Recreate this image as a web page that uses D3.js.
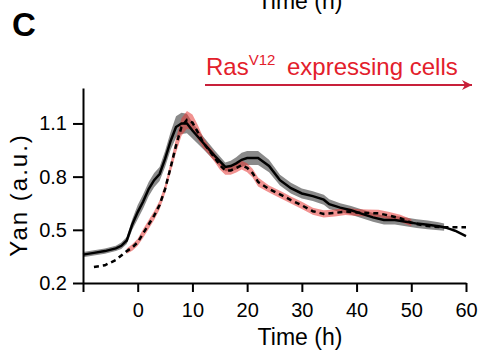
<!DOCTYPE html>
<html>
<head>
<meta charset="utf-8">
<script src="https://cdn.jsdelivr.net/npm/d3@7"></script>
<style>
    body { margin: 0; background: white; }
    svg { display: block; font-family: "Liberation Sans", Arial, sans-serif; }
</style>
</head>
<body>
<svg width="479" height="353"></svg>
<script>
// control cells (black line, grey band)
var ctrlTime = [-10, -8, -6, -4, -3, -2, -1, 0, 1, 2, 3, 4, 5, 6, 7, 8, 9, 10, 12, 14, 16, 17, 18, 19, 20,
    22, 24, 26, 28, 30, 32, 34, 35, 37, 39, 41, 43, 45, 47, 49, 51, 53, 55, 56, 57, 58, 60];
var ctrlYan = [0.36, 0.37, 0.38, 0.395, 0.41, 0.44, 0.53, 0.60, 0.66, 0.73, 0.78, 0.815, 0.90, 1.00, 1.08, 1.10, 1.10, 1.06,
    0.99, 0.92, 0.855, 0.86, 0.875, 0.895, 0.905, 0.905, 0.86, 0.78, 0.735, 0.705, 0.69, 0.67, 0.645,
    0.625, 0.61, 0.59, 0.57, 0.555, 0.555, 0.545, 0.535, 0.528, 0.52, 0.515, 0.505, 0.495, 0.465];
var ctrlSem = [0.015, 0.015, 0.015, 0.015, 0.018, 0.02, 0.03, 0.04, 0.04, 0.04, 0.04, 0.04, 0.045, 0.05, 0.06, 0.06, 0.055, 0.045,
    0.035, 0.03, 0.025, 0.03, 0.035, 0.04, 0.04, 0.04, 0.035, 0.03, 0.03, 0.028, 0.028, 0.028, 0.028,
    0.025, 0.025, 0.025, 0.025, 0.025, 0.025, 0.025, 0.025, 0.025, 0.022, 0.02, null, null, null];

// RasV12 cells (dashed line, red band)
var rasTime = [-8, -6, -4, -2, -1, 0, 1, 2, 3, 4, 5, 6, 7, 8, 9, 10, 11, 12, 13, 14, 15, 16, 17, 18, 19, 20, 21, 22,
    24, 26, 28, 30, 32, 34, 36, 38, 40, 42, 44, 46, 48, 50, 52, 54, 56, 58, 60];
var rasYan = [0.29, 0.30, 0.33, 0.38, 0.40, 0.43, 0.48, 0.53, 0.58, 0.64, 0.73, 0.85, 0.975, 1.08, 1.12, 1.105,
    1.05, 0.99, 0.95, 0.91, 0.865, 0.835, 0.835, 0.848, 0.865, 0.85, 0.82, 0.77,
    0.73, 0.70, 0.668, 0.638, 0.605, 0.59, 0.595, 0.603, 0.598, 0.595, 0.593, 0.58, 0.565, 0.54, 0.526, 0.518, 0.515, 0.515, 0.515];
var rasSem = [null, null, null, 0.015, 0.018, 0.02, 0.025, 0.025, 0.025, 0.025, 0.025, 0.03, 0.04, 0.05, 0.05, 0.045,
    0.04, 0.03, 0.025, 0.025, 0.025, 0.025, 0.025, 0.025, 0.025, 0.025, 0.025, 0.025,
    0.02, 0.02, 0.02, 0.02, 0.02, 0.02, 0.02, 0.02, 0.02, 0.02, 0.02, 0.02, 0.02, 0.02, null, null, null, null, null];

var xTicks = [-10, 0, 10, 20, 30, 40, 50, 60];
var yTicks = [0.2, 0.5, 0.8, 1.1];

var svg = d3.select('svg');

var xScale = d3.scaleLinear()
    .domain([-10, 60])
    .range([83, 466]);

var yScale = d3.scaleLinear()
    .domain([0.2, 1.3])
    .range([283, 88]);

function toRows(time, yan, sem) {
    return time.map((t, i) => ({ t: t, v: yan[i], s: sem[i] }));
}
var ctrl = toRows(ctrlTime, ctrlYan, ctrlSem);
var ras = toRows(rasTime, rasYan, rasSem);

var band = d3.area()
    .defined(d => d.s !== null)
    .x(d => xScale(d.t))
    .y0(d => yScale(d.v - d.s))
    .y1(d => yScale(d.v + d.s));

var line = d3.line()
    .x(d => xScale(d.t))
    .y(d => yScale(d.v));

//bands
svg.append('path')
    .attr('d', band(ctrl))
    .style('fill', '#8a8a8a');

svg.append('path')
    .attr('d', band(ras))
    .style('fill', '#e53935')
    .style('opacity', 0.55);

//mean lines
svg.append('path')
    .attr('d', line(ctrl))
    .style('fill', 'none')
    .style('stroke', 'black')
    .style('stroke-width', 2.5);

svg.append('path')
    .attr('d', line(ras))
    .style('fill', 'none')
    .style('stroke', 'black')
    .style('stroke-width', 2.5)
    .style('stroke-dasharray', '5,4');

//x-axis
var xAxis = d3.axisBottom(xScale)
    .tickValues(xTicks)
    .tickSize(9)
    .tickSizeOuter(0)
    .tickPadding(11)
    .tickFormat(d => d === -10 ? '' : d);

var gx = svg.append('g')
    .attr('transform', 'translate(0,283)')
    .call(xAxis);

//y-axis
var yAxis = d3.axisLeft(yScale)
    .tickValues(yTicks)
    .tickSize(10)
    .tickSizeOuter(0)
    .tickPadding(6)
    .tickFormat(d3.format('.1f'));

var gy = svg.append('g')
    .attr('transform', 'translate(83,0)')
    .call(yAxis);

[gx, gy].forEach(g => {
    g.selectAll('path, line').style('stroke', 'black').style('stroke-width', 2);
    g.selectAll('text').style('font-size', '20px').style('fill', 'black').style('font-family', null);
});

//axis labels
svg.append('text')
    .attr('x', 300)
    .attr('y', 345)
    .attr('text-anchor', 'middle')
    .style('font-size', '23px')
    .text('Time (h)');

svg.append('text')
    .attr('transform', 'translate(27,195) rotate(-90)')
    .attr('text-anchor', 'middle')
    .style('font-size', '24px')
    .style('letter-spacing', '2px')
    .text('Yan (a.u.)');

//leftover label from the panel above
svg.append('text')
    .attr('x', 300)
    .attr('y', 9)
    .attr('text-anchor', 'middle')
    .style('font-size', '23px')
    .text('Time (h)');

//panel letter
svg.append('text')
    .attr('x', 12)
    .attr('y', 36)
    .style('font-size', '33px')
    .style('font-weight', 'bold')
    .text('C');

//RasV12 annotation
var note = svg.append('text')
    .attr('x', 206)
    .attr('y', 75)
    .style('font-size', '24px')
    .style('fill', '#e3202b');
note.append('tspan').text('Ras');
note.append('tspan').attr('dy', -10).style('font-size', '15px').text('V12');
note.append('tspan').attr('x', 287).attr('dy', 10).text('expressing cells');

svg.append('defs').append('marker')
    .attr('id', 'head')
    .attr('viewBox', '0 0 10 10')
    .attr('refX', 10)
    .attr('refY', 5)
    .attr('markerWidth', 10)
    .attr('markerHeight', 5)
    .attr('markerUnits', 'strokeWidth')
    .attr('orient', 'auto')
    .append('path')
    .attr('d', 'M0,0 L10,5 L0,10 L3,5 Z')
    .style('fill', '#c8203a');

svg.append('line')
    .attr('x1', xScale(12.3))
    .attr('x2', 472)
    .attr('y1', 85)
    .attr('y2', 85)
    .style('stroke', '#c8203a')
    .style('stroke-width', 2)
    .attr('marker-end', 'url(#head)');
</script>
</body>
</html>
